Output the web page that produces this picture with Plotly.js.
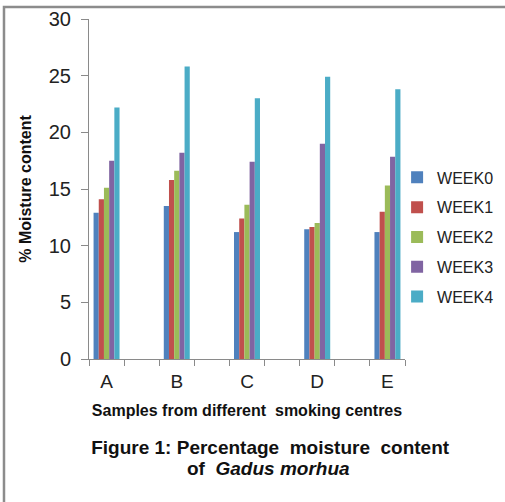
<!DOCTYPE html>
<html>
<head>
<meta charset="utf-8">
<script src="https://cdn.plot.ly/plotly-3.0.1.min.js"></script>
<style>html,body{margin:0;padding:0;background:#fff;}#chart{width:505px;height:502px;}</style>
</head>
<body>
<div id="chart"></div>
<script>
// Data
const categories = ["A", "B", "C", "D", "E"];
const axisCategories = ["A", " ", "B", "  ", "C", "   ", "D", "    ", "E"];
const seriesNames = ["WEEK0", "WEEK1", "WEEK2", "WEEK3", "WEEK4"];
const week0 = [12.9, 13.5, 11.2, 11.45, 11.2];
const week1 = [14.1, 15.8, 12.4, 11.65, 13.0];
const week2 = [15.1, 16.6, 13.6, 12.0, 15.3];
const week3 = [17.5, 18.2, 17.4, 19.0, 17.85];
const week4 = [22.2, 25.8, 23.0, 24.9, 23.8];
const seriesValues = [week0, week1, week2, week3, week4];
const colors = ["#4F81BD", "#C0504D", "#9BBB59", "#8064A2", "#4BACC6"];
const captionLine1 = "<b>Figure 1: Percentage  moisture  content</b>";
const captionLine2 = "<b>of  <i>Gadus morhua</i></b>";

const traces = seriesNames.map((name, i) => ({
  type: "bar",
  name: name,
  x: categories,
  y: seriesValues[i],
  legendgroup: name,
  marker: {color: colors[i], line: {width: 0}},
  hoverinfo: "x+y+name"
}));

const axisColor = "#8a8a8a";
const layout = {
  width: 505,
  height: 502,
  margin: {l: 89, r: 100, t: 19, b: 143, autoexpand: false},
  paper_bgcolor: "#ffffff",
  plot_bgcolor: "#ffffff",
  font: {family: "Liberation Sans, Arial, sans-serif", color: "#111"},
  barmode: "group",
  bargap: 0.26,
  bargroupgap: 0,
  showlegend: true,
  legend: {
    x: 0.975, xanchor: "left",
    y: 0.359, yanchor: "middle",
    font: {size: 16, color: "#222"},
    tracegroupgap: 6,
    bgcolor: "rgba(0,0,0,0)"
  },
  title: {
    text: captionLine1,
    font: {size: 19, color: "#111"},
    x: 0.535, xref: "container", xanchor: "center",
    y: 1 - 447 / 502, yref: "container", yanchor: "middle"
  },
  annotations: [{
    text: captionLine2,
    font: {size: 19, color: "#111"},
    xref: "paper", yref: "paper",
    x: (268 - 89) / 316, xanchor: "center",
    y: (359 - 468) / 340, yanchor: "middle",
    showarrow: false
  }],
  xaxis: {
    type: "category",
    categoryorder: "array",
    categoryarray: axisCategories,
    tickson: "boundaries",
    ticks: "outside",
    ticklen: 6,
    tickcolor: axisColor,
    showline: true,
    linecolor: axisColor,
    linewidth: 1,
    showgrid: false,
    zeroline: false,
    tickfont: {size: 19, color: "#222"},
    ticklabelstandoff: 5,
    title: {text: "<b>Samples from different  smoking centres</b>", font: {size: 16, color: "#111"}, standoff: 14},
    automargin: false
  },
  yaxis: {
    range: [0, 30],
    dtick: 5,
    ticks: "outside",
    ticklen: 7,
    tickcolor: axisColor,
    showline: true,
    linecolor: axisColor,
    linewidth: 1,
    showgrid: false,
    zeroline: false,
    tickfont: {size: 20, color: "#222"},
    ticklabelstandoff: 6,
    title: {text: "<b>% Moisture content</b>", font: {size: 16, color: "#111"}, standoff: 13},
    automargin: false
  },
  shapes: [{
    type: "rect", xref: "paper", yref: "paper",
    x0: -0.269, x1: 2, y0: -1, y1: 1.0353,
    line: {color: "#8c8c8c", width: 2.5},
    fillcolor: "rgba(0,0,0,0)",
    layer: "below"
  }]
};

Plotly.newPlot("chart", traces, layout, {displayModeBar: false, staticPlot: true});
</script>
</body>
</html>
